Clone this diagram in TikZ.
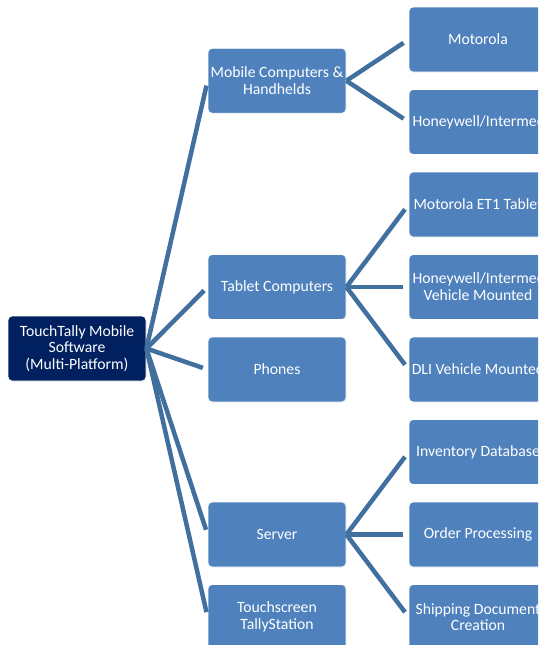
\documentclass[tikz,border=0pt]{standalone}
\usepackage{fontspec}
\setmainfont{Carlito}
\definecolor{boxblue}{HTML}{4F81BD}
\definecolor{rootblue}{HTML}{002060}
\definecolor{linkblue}{HTML}{41709F}
\begin{document}
\begin{tikzpicture}[x=1pt,y=-1pt,
  box/.style={rectangle, rounded corners=4pt, minimum width=138pt, minimum height=65pt,
    inner sep=0pt, align=center, fill=boxblue, draw=white, line width=0.8pt, text=white,
    font=\fontsize{15.7}{16.8}\selectfont},
  rootbox/.style={box, fill=rootblue},
  link/.style={draw=linkblue, line width=4.5pt}]
\useasboundingbox (0,0) rectangle (538,645);
\clip (0,0) rectangle (538,645);
\fill[white] (0,0) rectangle (538,645);
% root
\node[rootbox] (root) at (77,348.5) {TouchTally Mobile\\Software\\(Multi-Platform)};
% middle column
\node[box] (mob) at (277,80.75) {Mobile Computers \&\\Handhelds};
\node[box] (tab) at (277,287) {Tablet Computers};
\node[box] (pho) at (277,369.5) {Phones};
\node[box] (ser) at (277,534.5) {Server};
\node[box] (tou) at (277,617) {Touchscreen\\TallyStation};
% right column
\node[box] (mot) at (478,39.5) {Motorola};
\node[box] (hon) at (478,122) {Honeywell/Intermec};
\node[box] (et1) at (478,204.5) {Motorola ET1 Tablet};
\node[box] (hvm) at (478,287) {Honeywell/Intermec\\Vehicle Mounted};
\node[box] (dli) at (478,369.5) {DLI Vehicle Mounted};
\node[box] (inv) at (478,452) {Inventory Database};
\node[box] (ord) at (478,534.5) {Order Processing};
\node[box] (shp) at (478,617) {Shipping Document\\Creation};
% connectors
\foreach \c in {mob,tab,pho,ser,tou}
  \draw[link, shorten >=5pt] (root.east) -- (\c.west);
\foreach \c in {mot,hon}
  \draw[link, shorten >=6pt] (mob.east) -- (\c.west);
\foreach \c in {et1,hvm,dli}
  \draw[link, shorten >=6pt] (tab.east) -- (\c.west);
\foreach \c in {inv,ord,shp}
  \draw[link, shorten >=6pt] (ser.east) -- (\c.west);
\end{tikzpicture}
\end{document}
